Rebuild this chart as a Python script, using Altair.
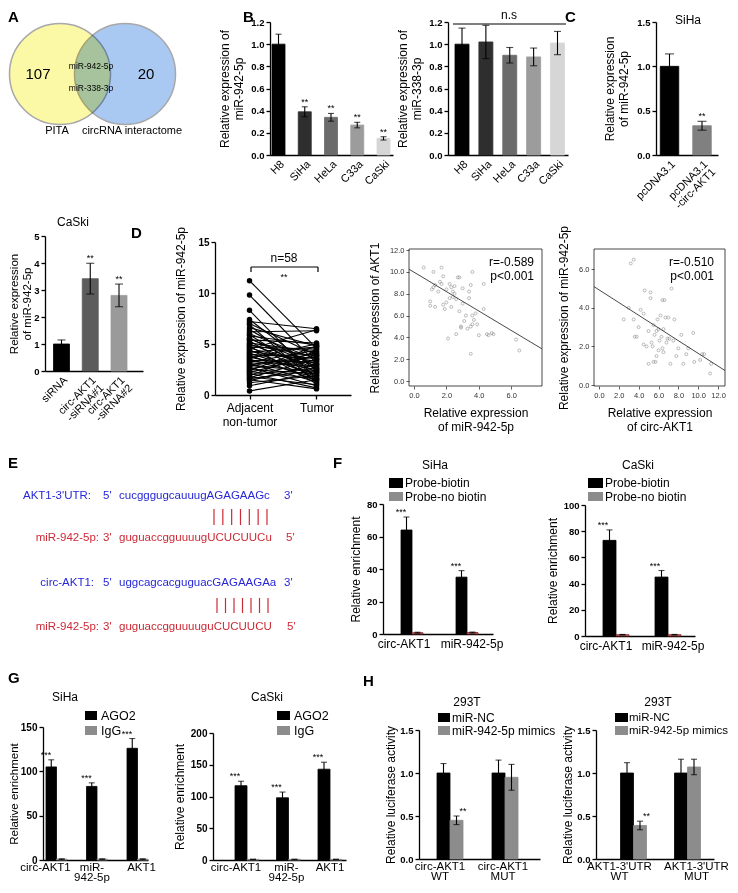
import altair as alt
import pandas as pd

W, H = 722, 877
OX, OY = 8, 8
FONT = "Liberation Sans"
BLUE = "#2727d8"
RED = "#cc2a36"
GRAY = "#8c8c8c"


def px(v):
    return v - OX


def py(v):
    return v - OY


# ======================= DATA =======================
venn_counts = ["107", "20"]
venn_sets = ["PITA", "circRNA interactome"]
venn_common = ["miR-942-5p", "miR-338-3p"]

cell_lines = ["H8", "SiHa", "HeLa", "C33a", "CaSki"]
mir942_cells = [1.00, 0.39, 0.34, 0.27, 0.15]
mir942_cells_err = [0.09, 0.045, 0.035, 0.025, 0.015]
mir942_cells_sig = ["", "**", "**", "**", "**"]
mir338_cells = [1.00, 1.02, 0.90, 0.885, 1.01]
mir338_cells_err = [0.145, 0.15, 0.07, 0.08, 0.105]
cell_colors = ["#000000", "#2e2e2e", "#6b6b6b", "#9c9c9c", "#d6d6d6"]

oe_groups = ["pcDNA3.1", "pcDNA3.1\n-circ-AKT1"]
oe_vals = [1.0, 0.33]
oe_err = [0.14, 0.05]
oe_sig = ["", "**"]
oe_colors = ["#000000", "#808080"]

kd_groups = ["siRNA", "circ-AKT1\n-siRNA#1", "circ-AKT1\n-siRNA#2"]
kd_vals = [1.0, 3.42, 2.80]
kd_err = [0.15, 0.57, 0.42]
kd_sig = ["", "**", "**"]
kd_colors = ["#000000", "#5c5c5c", "#9a9a9a"]

pair_groups = ["Adjacent\nnon-tumor", "Tumor"]
adjacent = [11.2, 9.8, 8.3, 7.4, 7.2, 7.0, 6.9, 6.6, 6.4, 6.2,
            6.0, 5.9, 5.8, 5.6, 5.5, 5.4, 5.3, 5.1, 5.0, 4.9,
            4.8, 4.7, 4.6, 4.5, 4.4, 4.3, 4.2, 4.1, 4.0, 3.9,
            3.8, 3.7, 3.6, 3.5, 3.4, 3.3, 3.2, 3.1, 3.0, 2.9,
            2.8, 2.7, 2.6, 2.5, 2.4, 2.3, 2.2, 2.1, 2.0, 1.9,
            1.8, 1.7, 1.6, 1.5, 1.4, 1.2, 0.9, 0.4]
tumor = [4.6, 3.1, 1.6, 2.4, 6.5, 3.9, 1.2, 4.8, 2.7, 6.3,
         3.5, 1.9, 4.9, 2.2, 3.0, 5.1, 1.5, 4.2, 2.6, 3.8,
         1.1, 4.5, 2.9, 6.4, 1.8, 3.3, 4.7, 2.0, 3.6, 1.4,
         4.0, 2.5, 5.0, 1.7, 3.2, 2.8, 4.4, 1.3, 3.7, 2.3,
         4.1, 0.9, 3.4, 2.1, 4.8, 1.6, 3.9, 0.7, 2.6, 4.3,
         1.0, 3.5, 2.4, 0.6, 3.0, 1.9, 2.2, 1.5]

s1_x = [0.6, 1.0, 1.0, 1.1, 1.2, 1.2, 1.3, 1.3, 1.6, 1.7,
        1.7, 1.8, 1.8, 1.9, 2.0, 2.0, 2.1, 2.2, 2.2, 2.3,
        2.3, 2.4, 2.4, 2.5, 2.5, 2.6, 2.6, 2.7, 2.8, 2.8,
        2.9, 3.0, 3.0, 3.1, 3.2, 3.3, 3.4, 3.4, 3.5, 3.5,
        3.5, 3.6, 3.6, 3.7, 3.9, 4.0, 4.3, 4.3, 4.5, 4.6,
        4.8, 4.9, 3.6, 3.8, 6.3, 6.5, 2.9, 1.5]
s1_y = [10.4, 6.9, 7.3, 8.4, 8.6, 10.0, 8.8, 6.8, 9.1, 10.4,
        8.9, 9.6, 7.0, 6.6, 8.4, 7.2, 3.9, 8.9, 7.6, 8.6,
        6.8, 8.2, 7.7, 8.0, 8.7, 7.5, 4.3, 9.5, 9.5, 6.4,
        5.0, 8.5, 7.1, 5.5, 6.0, 4.8, 7.6, 8.2, 5.0, 8.8,
        2.5, 5.2, 6.0, 5.6, 5.2, 4.2, 8.9, 6.6, 4.3, 4.2,
        4.4, 4.3, 10.0, 6.2, 3.8, 2.8, 4.9, 8.2]
s1_fit_x = [-0.31, 7.9]
s1_fit_y = [10.25, 2.95]

s2_x = [3.2, 3.5, 3.0, 2.5, 3.5, 3.8, 4.0, 4.2, 4.5, 4.6,
        4.8, 5.0, 5.2, 5.2, 5.3, 5.4, 5.5, 5.5, 5.6, 5.7,
        5.8, 5.9, 6.0, 6.1, 6.2, 6.3, 6.4, 6.5, 6.5, 6.6,
        6.7, 6.8, 6.9, 7.0, 7.1, 7.2, 7.3, 7.5, 7.6, 7.8,
        8.0, 8.3, 8.5, 8.8, 9.0, 9.5, 9.6, 10.2, 10.4, 10.6,
        11.3, 11.2, 4.5, 5.0, 6.0, 3.6, 5.8, 6.4]
s2_y = [6.3, 6.5, 4.0, 3.4, 3.4, 2.5, 3.0, 3.9, 3.7, 4.9,
        2.0, 1.1, 4.8, 4.5, 2.2, 2.0, 3.1, 1.2, 2.6, 1.2,
        2.8, 3.4, 1.8, 2.3, 3.6, 2.5, 4.4, 2.9, 1.7, 4.4,
        3.5, 2.2, 2.4, 3.5, 2.4, 1.1, 5.0, 2.3, 3.4, 1.5,
        1.9, 2.6, 1.1, 1.6, 1.9, 2.7, 1.2, 1.3, 1.6, 1.6,
        1.1, 0.6, 2.1, 2.8, 2.9, 2.5, 1.5, 1.9]
s2_fit_x = [-0.5, 12.7]
s2_fit_y = [5.1, 0.75]
corr_texts = ["r=-0.589\np<0.001", "r=-0.510\np<0.001"]

seq_labels = ["AKT1-3'UTR:", "miR-942-5p:", "circ-AKT1:", "miR-942-5p:"]
seq_left = ["5'", "3'", "5'", "3'"]
seq_text = ["cucgggugcauuugAGAGAAGc", "guguaccgguuuugUCUCUUCu",
            "uggcagcacguguacGAGAAGAa", "guguaccgguuuuguCUCUUCU"]
seq_right = ["3'", "5'", "3'", "5'"]

pull_targets = ["circ-AKT1", "miR-942-5p"]
pull_series = ["Probe-biotin", "Probe-no biotin"]
pull_siha = [[64, 35], [0.8, 0.9]]
pull_siha_err = [[8, 4], [0.3, 0.3]]
pull_caski = [[73, 45], [1.0, 1.0]]
pull_caski_err = [[8, 5], [0.2, 0.2]]

rip_targets = ["circ-AKT1", "miR-\n942-5p", "AKT1"]
rip_series = ["AGO2", "IgG"]
rip_siha = [[105, 83, 126], [1, 1, 1]]
rip_siha_err = [[8, 4, 11], [0.3, 0.3, 0.3]]
rip_caski = [[117, 98, 143], [1, 1, 1]]
rip_caski_err = [[7, 9, 11], [0.3, 0.3, 0.3]]

luc_left = ["circ-AKT1\nWT", "circ-AKT1\nMUT"]
luc_right = ["AKT1-3'UTR\nWT", "AKT1-3'UTR\nMUT"]
luc_series = ["miR-NC", "miR-942-5p mimics"]
luc_left_vals = [[1.0, 1.0], [0.45, 0.95]]
luc_left_err = [[0.11, 0.15], [0.05, 0.15]]
luc_left_sig = [["", ""], ["**", ""]]
luc_right_vals = [[1.0, 1.0], [0.39, 1.07]]
luc_right_err = [[0.12, 0.16], [0.05, 0.09]]
luc_right_sig = [["", ""], ["**", ""]]

# ======================= HELPERS =======================
AXS = dict(domainColor="black", tickColor="black", labelColor="black", titleColor="black",
           grid=False, labelFont=FONT, titleFont=FONT, titleFontWeight="normal",
           labelOverlap=False, labelFlush=False)


def axkw(**over):
    d = dict(AXS)
    d.update(over)
    return d


def yax(xref, values, fmt, title, tpad=5, lsize=9.5, bold=True, tsize=12, tick=4,
        domain=True, lcolor="black", dw=1.3):
    return alt.Axis(orient="left", offset=-px(xref), values=values, format=fmt, title=title,
                    titlePadding=tpad, titleFontSize=tsize, labelFontSize=lsize,
                    labelFontWeight="bold" if bold else "normal", tickSize=tick, tickWidth=dw,
                    domain=domain, domainWidth=dw, labelPadding=2,
                    **axkw(labelColor=lcolor, tickColor=lcolor if not domain else "black"))


def xax_band(yref, angle=0, lsize=11, lpad=3, ticks=False, shifts=None, lh=None):
    kw = dict(orient="bottom", offset=py(yref) - H, title=None, labelAngle=angle,
              labelFontSize=lsize, labelPadding=lpad, ticks=ticks, tickSize=4,
              tickWidth=1.3, domainWidth=1.3, labelExpr="split(datum.label, '\\n')")
    if lh:
        kw["labelLineHeight"] = lh
    if shifts:
        n = len(shifts)
        conds = [{"test": "datum.index === %s" % repr(i / (n - 1)), "value": s}
                 for i, s in enumerate(shifts) if s != 0]
        if conds:
            kw["labelOffset"] = {"condition": conds, "value": 0}
    kw.update(AXS)
    return alt.Axis(**kw)


def xax_num(yref, values, title, tpad=6):
    return alt.Axis(orient="bottom", offset=py(yref) - H, values=values, format=".1f",
                    title=title, titlePadding=tpad, titleFontSize=12, labelFontSize=7.5,
                    tickSize=3, tickWidth=0.8, domain=False, labelPadding=2,
                    **axkw(labelColor="#333333", tickColor="#333333"))


def band_scale(domain, x0, x1, c1, cn, bw):
    n = len(domain)
    step = (cn - c1) / (n - 1)
    pi = max(0.0, min(0.95, 1 - bw / step))
    span = x1 - x0
    po = max(0.0, (span / step - n + pi) / 2)
    step_v = span / (n - pi + 2 * po)
    left = span - step_v * (n - pi)
    al = 0.5 if left <= 0.01 else min(1.0, max(0.0, (c1 - bw / 2 - x0) / left))
    return alt.Scale(type="band", domain=domain, range=[px(x0), px(x1)],
                     paddingInner=pi, paddingOuter=po, align=al, round=False)


def bar_rows(cats, series, vals, errs, colors, sigs=None, strokes=None):
    rows = []
    for si, s in enumerate(series):
        for ci, c in enumerate(cats):
            col = colors[si] if len(series) > 1 else colors[ci]
            rows.append(dict(cat=c, ser=s, val=vals[si][ci], err=errs[si][ci],
                             sig=(sigs[si][ci] if sigs else ""), col=col,
                             stk=(strokes[si] if strokes else col)))
    return rows


def bar_panel(rows, cats, series, geo, ykw, xkw, cap=6, star_size=9):
    df = pd.DataFrame(rows)
    df["lo"] = df["val"] - df["err"]
    df["hi"] = df["val"] + df["err"]
    x0, x1, c1, cn, bw, ytop, ybot, ydom = geo

    def X(on):
        return alt.X("cat:N", scale=band_scale(cats, x0, x1, c1, cn, bw),
                     axis=xax_band(**xkw) if on else None)

    def Y(f, on=False):
        return alt.Y(f, scale=alt.Scale(domain=ydom, range=[py(ybot), py(ytop)], nice=False),
                     axis=yax(**ykw) if on else None)

    def extra():
        if len(series) > 1:
            return {"xOffset": alt.XOffset("ser:N", scale=alt.Scale(domain=series, paddingInner=0,
                                                                    paddingOuter=0))}
        return {}

    base = alt.Chart(df)
    bars = base.mark_bar(strokeWidth=0.8).encode(
        x=X(True), y=Y("val:Q", True), color=alt.Color("col:N", scale=None),
        stroke=alt.Stroke("stk:N", scale=None), **extra())
    rule = base.mark_rule(color="black", strokeWidth=1.1).encode(
        x=X(False), y=Y("lo:Q"), y2="hi:Q", **extra())
    cap_t = base.mark_tick(color="black", thickness=1.1, size=cap).encode(
        x=X(False), y=Y("hi:Q"), **extra())
    cap_b = base.mark_tick(color="black", thickness=1.1, size=cap).encode(
        x=X(False), y=Y("lo:Q"), **extra())
    star = base.mark_text(fontSize=star_size, baseline="bottom", dy=0, font=FONT,
                          color="black").encode(x=X(False), y=Y("hi:Q"), text="sig:N", **extra())
    return [bars, rule, cap_t, cap_b, star]


def IX(f="x"):
    return alt.X(f"{f}:Q", scale=None, axis=None)


def IY(f="y"):
    return alt.Y(f"{f}:Q", scale=None, axis=None)


def texts(items, size=12, weight="normal", align="center", baseline="middle", color="black"):
    df = pd.DataFrame(items, columns=["x", "y", "t"])
    df["x"] = df["x"].map(px)
    df["y"] = df["y"].map(py)
    return alt.Chart(df).mark_text(fontSize=size, fontWeight=weight, align=align,
                                   baseline=baseline, color=color, font=FONT,
                                   lineBreak="\n").encode(x=IX(), y=IY(), text="t:N")


def segs(items, color="black", width=1.0):
    df = pd.DataFrame(items, columns=["x", "y", "x2", "y2"])
    for c in ["x", "x2"]:
        df[c] = df[c].map(px)
    for c in ["y", "y2"]:
        df[c] = df[c].map(py)
    return alt.Chart(df).mark_rule(color=color, strokeWidth=width).encode(
        x=IX("x"), y=IY("y"), x2="x2:Q", y2="y2:Q")


def swatches(items):
    df = pd.DataFrame(items, columns=["x0", "y0", "x1", "y1", "c"])
    for c in ["x0", "x1"]:
        df[c] = df[c].map(px)
    for c in ["y0", "y1"]:
        df[c] = df[c].map(py)
    return alt.Chart(df).mark_rect().encode(x=IX("x0"), x2="x1:Q", y=IY("y0"), y2="y1:Q",
                                             color=alt.Color("c:N", scale=None))


def scatter_panel(xs_, ys_, fx, fy, xdom, ydom, xl, xr, yt, yb, xticks, yticks,
                  xtitle, ytitle, ytpad=6, xtpad=8):
    def XS(f, axis=None):
        return alt.X(f, scale=alt.Scale(domain=xdom, range=[px(xl), px(xr)], nice=False,
                                        zero=False), axis=axis)

    def YS(f, axis=None):
        return alt.Y(f, scale=alt.Scale(domain=ydom, range=[py(yb), py(yt)], nice=False,
                                        zero=False), axis=axis)

    pts = pd.DataFrame({"x": xs_, "y": ys_})
    frame = pd.DataFrame({"x0": [xdom[0]], "x1": [xdom[1]], "y0": [ydom[0]], "y1": [ydom[1]]})
    fit = pd.DataFrame({"x": fx, "y": fy})
    yaxis = yax(xl, yticks, ".1f", ytitle, tpad=ytpad, lsize=7.5, bold=False, tick=3,
                domain=False, lcolor="#333333", dw=0.8)
    f = alt.Chart(frame).mark_rect(fillOpacity=0, stroke="#333333", strokeWidth=0.9).encode(
        x=XS("x0:Q"), x2="x1:Q", y=YS("y0:Q"), y2="y1:Q")
    p = alt.Chart(pts).mark_point(shape="circle", size=9, color="#777777", strokeWidth=0.7,
                                  filled=False).encode(
        x=XS("x:Q", xax_num(yb, xticks, xtitle, xtpad)), y=YS("y:Q", yaxis))
    l = alt.Chart(fit).mark_line(color="#333333", strokeWidth=0.9).encode(
        x=XS("x:Q"), y=YS("y:Q"))
    return [f, p, l]


layers = []

# ---------------- A: Venn ----------------
venn_r_area = 10207
yc = pd.DataFrame({"x": [px(60)], "y": [py(74)]})
bc = pd.DataFrame({"x": [px(125)], "y": [py(74)]})
layers.append(alt.Chart(yc).mark_circle(size=venn_r_area, color="#fbf8a6", opacity=1,
                                         stroke="#a8a8a8", strokeWidth=1.5).encode(x=IX(), y=IY()))
layers.append(alt.Chart(bc).mark_circle(size=venn_r_area, color="#a9c9f2", opacity=1,
                                         stroke="#a8a8a8", strokeWidth=1.5,
                                         blend="multiply").encode(x=IX(), y=IY()))
layers.append(texts([(38, 74, venn_counts[0]), (146, 74, venn_counts[1])], size=15))
layers.append(texts([(91, 66, venn_common[0]), (91, 88, venn_common[1])], size=8.5))
layers.append(texts([(57, 131, venn_sets[0]), (132, 131, venn_sets[1])], size=11))

# ---------------- B ----------------
layers += bar_panel(
    bar_rows(cell_lines, ["s"], [mir942_cells], [mir942_cells_err], cell_colors, [mir942_cells_sig]),
    cell_lines, ["s"], (270, 393, 278.5, 383.5, 13, 22, 155, [0, 1.2]),
    dict(xref=270, values=[0, 0.2, 0.4, 0.6, 0.8, 1.0, 1.2], fmt=".1f",
         title=["Relative expression of", "miR-942-5p"], tpad=5),
    dict(yref=155, angle=-45, lsize=11), cap=6)
layers += bar_panel(
    bar_rows(cell_lines, ["s"], [mir338_cells], [mir338_cells_err], cell_colors),
    cell_lines, ["s"], (448, 568, 462, 557.5, 14, 22, 155, [0, 1.2]),
    dict(xref=448, values=[0, 0.2, 0.4, 0.6, 0.8, 1.0, 1.2], fmt=".1f",
         title=["Relative expression of", "miR-338-3p"], tpad=5),
    dict(yref=155, angle=-45, lsize=11), cap=7)
layers.append(segs([(453, 24, 566, 24)], width=1.2))

# ---------------- C ----------------
layers += bar_panel(
    bar_rows(oe_groups, ["s"], [oe_vals], [oe_err], oe_colors, [oe_sig]),
    oe_groups, ["s"], (656, 718, 669.5, 702, 18.5, 22, 155, [0, 1.5]),
    dict(xref=656, values=[0, 0.5, 1.0, 1.5], fmt=".1f",
         title=["Relative expression", "of miR-942-5p"], tpad=6),
    dict(yref=155, angle=-45, lsize=11, lh=11), cap=9)

# ---------------- CaSki knockdown ----------------
layers += bar_panel(
    bar_rows(kd_groups, ["s"], [kd_vals], [kd_err], kd_colors, [kd_sig]),
    kd_groups, ["s"], (45, 143, 61.5, 119, 16, 236, 371, [0, 5]),
    dict(xref=45, values=[0, 1, 2, 3, 4, 5], fmt="d",
         title=["Relative expression", "of miR-942-5p"], tpad=1, tsize=11.5),
    dict(yref=371, angle=-45, lsize=11, lh=11), cap=8)

# ---------------- D paired ----------------
npair = len(adjacent)
pair_df = pd.DataFrame({"pid": list(range(npair)) * 2,
                        "grp": [pair_groups[0]] * npair + [pair_groups[1]] * npair,
                        "val": adjacent + tumor})


def PX(axis=None):
    return alt.X("grp:N", scale=alt.Scale(type="point", domain=pair_groups,
                                          range=[px(215), px(351)], padding=0.515), axis=axis)


def PY(axis=None):
    return alt.Y("val:Q", scale=alt.Scale(domain=[0, 15], range=[py(395), py(242)], nice=False),
                 axis=axis)


layers.append(alt.Chart(pair_df).mark_line(color="black", strokeWidth=1.1).encode(
    x=PX(xax_band(395, 0, 12, 3, ticks=True)),
    y=PY(yax(215, [0, 5, 10, 15], "d", "Relative expression of miR-942-5p", tpad=10, lsize=10)),
    detail="pid:N"))
layers.append(alt.Chart(pair_df).mark_circle(color="black", size=30, opacity=1).encode(
    x=PX(), y=PY()))
layers.append(segs([(251, 267, 318, 267), (251, 267, 251, 272), (318, 267, 318, 272)], width=1.2))

# ---------------- D scatters ----------------
layers += scatter_panel(s1_x, s1_y, s1_fit_x, s1_fit_y, [-0.31, 7.9], [-0.45, 12.1],
                        409, 542, 249, 386, [0, 2, 4, 6], [0, 2, 4, 6, 8, 10, 12],
                        ["Relative expression", "of miR-942-5p"],
                        "Relative expression of AKT1", ytpad=8, xtpad=9)
layers += scatter_panel(s2_x, s2_y, s2_fit_x, s2_fit_y, [-0.5, 12.7], [-0.05, 7.05],
                        594, 725, 249, 386, [0, 2, 4, 6, 8, 10, 12], [0, 2, 4, 6],
                        ["Relative expression", "of circ-AKT1"],
                        "Relative expression of miR-942-5p", ytpad=8, xtpad=9)
layers.append(texts([(534, 257, corr_texts[0]), (714, 257, corr_texts[1])], size=12,
                    align="right", baseline="top"))

# ---------------- E sequences ----------------
seq_y = [496, 538, 583, 627]
seq_lab_x = [91, 99, 94, 99]
seq_end_x = [284, 286, 284, 287]
for i in range(4):
    col = BLUE if i % 2 == 0 else RED
    layers.append(texts([(seq_lab_x[i], seq_y[i], seq_labels[i])], size=11.5, align="right",
                        color=col))
    layers.append(texts([(103, seq_y[i], seq_left[i]), (119, seq_y[i], seq_text[i]),
                         (seq_end_x[i], seq_y[i], seq_right[i])], size=11.5, align="left",
                        color=col))
pair_lines_1 = [(214 + k * 8.83, 509, 214 + k * 8.83, 525) for k in range(7)]
pair_lines_2 = [(217 + k * 8.5, 598, 217 + k * 8.5, 613) for k in range(7)]
layers.append(segs(pair_lines_1 + pair_lines_2, color=RED, width=1.2))

# ---------------- F pull-down ----------------
layers += bar_panel(
    bar_rows(pull_targets, pull_series, pull_siha, pull_siha_err, ["#000000", GRAY],
             [["***", "***"], ["", ""]], ["#000000", "#9b1c1c"]),
    pull_targets, pull_series, (383, 493, 412, 467, 22, 504, 634, [0, 80]),
    dict(xref=383, values=[0, 20, 40, 60, 80], fmt="d", title="Relative enrichment", tpad=4),
    dict(yref=634, angle=0, lsize=12, lpad=4, shifts=[-8, 5]), cap=6)
layers += bar_panel(
    bar_rows(pull_targets, pull_series, pull_caski, pull_caski_err, ["#000000", GRAY],
             [["***", "***"], ["", ""]], ["#000000", "#9b1c1c"]),
    pull_targets, pull_series, (585, 695, 616, 668, 26, 505, 636, [0, 100]),
    dict(xref=585, values=[0, 20, 40, 60, 80, 100], fmt="d", title="Relative enrichment",
         tpad=4),
    dict(yref=636, angle=0, lsize=12, lpad=4, shifts=[-10, 5]), cap=6)
layers.append(swatches([(389, 478, 403, 488, "#000000"), (389, 492, 403, 501, GRAY),
                        (588, 478, 603, 488, "#000000"), (588, 492, 603, 501, GRAY)]))
layers.append(texts([(405, 483, pull_series[0]), (405, 497, pull_series[1]),
                     (605, 483, pull_series[0]), (605, 497, pull_series[1])], size=12,
                    align="left"))

# ---------------- G RIP ----------------
layers += bar_panel(
    bar_rows(rip_targets, rip_series, rip_siha, rip_siha_err, ["#000000", GRAY],
             [["***", "***", "***"], ["", "", ""]]),
    rip_targets, rip_series, (43, 148, 59, 140, 21, 727, 860, [0, 150]),
    dict(xref=43, values=[0, 50, 100, 150], fmt="d", title="Relative enrichment", tpad=1,
         lsize=10, tsize=11.5),
    dict(yref=860, angle=0, lsize=11.5, lpad=1, lh=10, shifts=[-11, -5, 4]), cap=6)
layers += bar_panel(
    bar_rows(rip_targets, rip_series, rip_caski, rip_caski_err, ["#000000", GRAY],
             [["***", "***", "***"], ["", "", ""]]),
    rip_targets, rip_series, (213, 346, 247, 330, 24, 733, 860, [0, 200]),
    dict(xref=213, values=[0, 50, 100, 150, 200], fmt="d", title="Relative enrichment",
         tpad=4, lsize=10),
    dict(yref=860, angle=0, lsize=11.5, lpad=1, lh=10, shifts=[-11, -2, 0]), cap=6)
layers.append(swatches([(85, 711, 97, 720, "#000000"), (85, 726, 97, 735, GRAY),
                        (277, 711, 290, 720, "#000000"), (277, 726, 290, 735, GRAY)]))
layers.append(texts([(101, 715.5, rip_series[0]), (101, 731, rip_series[1]),
                     (294, 715.5, rip_series[0]), (294, 731, rip_series[1])], size=12.5,
                    align="left"))

# ---------------- H luciferase ----------------
layers += bar_panel(
    bar_rows(luc_left, luc_series, luc_left_vals, luc_left_err, ["#000000", GRAY], luc_left_sig),
    luc_left, luc_series, (419, 540, 450, 505, 26, 730, 859, [0, 1.5]),
    dict(xref=419, values=[0, 0.5, 1.0, 1.5], fmt=".1f", title="Relative luciferase activity",
         tpad=2),
    dict(yref=859, angle=0, lsize=11.5, lpad=1, lh=10, shifts=[-10, -2]), cap=6)
layers += bar_panel(
    bar_rows(luc_right, luc_series, luc_right_vals, luc_right_err, ["#000000", GRAY],
             luc_right_sig),
    luc_right, luc_series, (596, 714, 633.5, 687.5, 26, 730, 859, [0, 1.5]),
    dict(xref=596, values=[0, 0.5, 1.0, 1.5], fmt=".1f", title="Relative luciferase activity",
         tpad=2),
    dict(yref=859, angle=0, lsize=11.5, lpad=1, lh=10, shifts=[-14, 9]), cap=6)
layers.append(swatches([(438, 713, 450, 722, "#000000"), (438, 726, 450, 735, GRAY),
                        (615, 713, 628, 722, "#000000"), (615, 726, 628, 735, GRAY)]))
layers.append(texts([(452, 717.5, luc_series[0]), (452, 730.5, luc_series[1])], size=12,
                    align="left"))
layers.append(texts([(629, 717.5, luc_series[0]), (629, 730.5, luc_series[1])], size=11.5,
                    align="left"))

# ---------------- titles & letters ----------------
layers.append(texts([(688, 20, "SiHa"), (73, 222, "CaSki"), (435, 465, "SiHa"),
                     (638, 465, "CaSki"), (65, 697, "SiHa"), (267, 697, "CaSki"),
                     (467, 702, "293T"), (658, 702, "293T"), (509, 15, "n.s"),
                     (284, 258, "n=58")], size=12))
layers.append(texts([(284, 277, "**")], size=9))
layers.append(texts([(8, 10, "A"), (243, 10, "B"), (565, 10, "C"), (131, 226, "D"),
                     (8, 456, "E"), (333, 456, "F"), (8, 671, "G"), (363, 674, "H")],
                    size=15, weight="bold", align="left", baseline="top"))

chart = alt.layer(*layers).resolve_scale(
    x="independent", y="independent", xOffset="independent"
).properties(
    width=W, height=H, autosize=alt.AutoSizeParams(type="none"), padding=0
).configure_view(stroke=None)

chart.save("out.html", embed_options={"renderer": "svg", "actions": False})
